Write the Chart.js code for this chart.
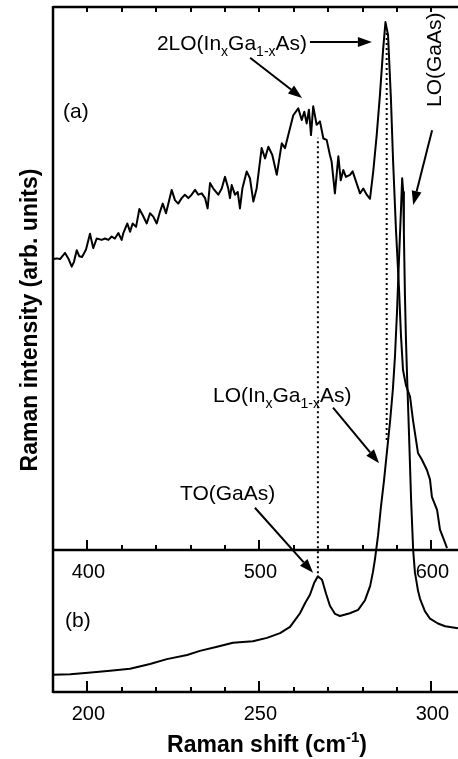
<!DOCTYPE html>
<html>
<head>
<meta charset="utf-8">
<script src="https://cdn.jsdelivr.net/npm/chart.js@4/dist/chart.umd.min.js"></script>
<style>
  body { margin: 0; background: #fff; overflow: hidden; }
</style>
</head>
<body>
<canvas id="raman" width="458" height="759"></canvas>
<script>
// Spektrum (a) - obere Achse (cm^-1)
const shiftA = [380.2, 382.2, 384.1, 387.0, 388.9, 390.9, 392.2, 393.8, 395.3, 396.9,
  399.2, 401.5, 403.4, 405.4, 408.3, 410.2, 412.2, 414.1, 416.0, 418.0,
  419.9, 420.9, 423.2, 424.8, 426.3, 428.3, 430.2, 432.2, 434.5, 436.4,
  438.3, 440.3, 442.2, 443.8, 445.7, 449.0, 450.9, 452.8, 454.8, 456.7,
  458.7, 460.6, 462.6, 464.5, 466.5, 468.4, 469.9, 471.3, 473.2, 476.1,
  478.1, 480.0, 481.9, 482.9, 483.9, 485.8, 487.4, 488.7, 490.1, 492.6,
  494.5, 496.5, 498.4, 501.3, 503.3, 505.2, 507.5, 510.1, 513.0, 514.9,
  516.8, 519.7, 522.6, 524.6, 526.1, 527.5, 528.8, 530.0, 531.3, 533.3,
  535.2, 537.2, 539.1, 541.0, 542.0, 543.9, 545.9, 547.3, 548.8, 550.3,
  552.7, 554.2, 556.2, 558.5, 560.4, 562.4, 564.3, 566.2, 568.2, 570.1,
  571.9, 573.3, 574.8, 576.5, 577.7, 579.4, 581.2, 582.3, 583.5, 585.2,
  587.6, 589.3, 592.2, 594.5, 597.4, 599.2, 600.3, 603.3, 605.0, 607.3,
  609.1];
const intensityA = [63.2, 63.3, 63.2, 64.1, 63.3, 62.1, 62.8, 64.5, 63.6, 63.5,
  64.6, 66.9, 64.8, 66.2, 66.0, 66.2, 66.0, 66.5, 66.2, 67.0,
  66.0, 67.0, 68.4, 67.2, 68.4, 67.9, 70.5, 69.6, 68.4, 69.9,
  69.4, 68.4, 70.1, 71.3, 69.9, 73.3, 71.8, 71.3, 72.1, 72.6,
  72.1, 72.6, 73.3, 72.6, 72.8, 72.1, 70.6, 74.3, 73.5, 72.6,
  73.5, 75.2, 73.5, 72.1, 74.0, 72.6, 73.0, 70.6, 73.5, 76.0,
  75.0, 71.6, 73.5, 79.4, 77.9, 79.6, 78.4, 75.5, 80.1, 79.4,
  81.3, 84.2, 85.2, 83.5, 84.7, 83.0, 85.0, 81.3, 85.5, 82.8,
  83.3, 80.8, 80.6, 78.4, 77.4, 72.8, 78.2, 74.7, 76.2, 75.2,
  75.5, 76.0, 74.5, 72.8, 73.5, 72.6, 72.0, 76.0, 81.3, 87.2,
  93.7, 97.8, 95.9, 86.4, 77.7, 67.5, 58.7, 52.1, 47.0, 44.8,
  43.1, 39.7, 34.9, 33.9, 32.4, 31.0, 28.5, 26.6, 23.7, 22.2,
  21.0];

// Spektrum (b) - untere Achse (cm^-1)
const shiftB = [190.0, 195.0, 200.2, 206.6, 212.4, 218.2, 223.1, 229.0, 232.7, 237.7,
  242.3, 248.1, 252.2, 256.0, 258.9, 260.5, 261.8, 263.3, 264.7, 265.9,
  267.0, 268.2, 269.4, 270.5, 272.0, 273.4, 276.3, 278.7, 280.7, 282.2,
  283.0, 283.6, 284.5, 285.3, 286.2, 287.1, 288.0, 288.8, 289.4, 290.0,
  290.6, 291.2, 291.5, 291.8, 292.0, 292.3, 292.6, 292.9, 293.5, 294.1,
  294.7, 295.2, 296.1, 296.7, 298.1, 299.6, 301.9, 304.0, 307.7];
const intensityB = [2.5, 2.6, 2.8, 3.1, 3.4, 4.1, 4.8, 5.4, 6.0, 6.6,
  7.2, 7.4, 7.9, 8.6, 9.5, 10.6, 11.5, 13.0, 14.2, 15.9,
  16.9, 16.4, 14.3, 12.6, 11.4, 11.1, 11.5, 12.0, 13.4, 15.5,
  17.5, 19.4, 22.9, 26.9, 30.8, 35.2, 39.6, 44.2, 48.9, 55.5,
  63.5, 71.0, 75.0, 73.0, 67.0, 58.0, 51.5, 46.5, 37.5, 28.0,
  20.7, 17.5, 14.8, 13.6, 11.8, 10.7, 10.0, 9.6, 9.3];

// gepunktete Hilfslinien (TO(GaAs), LO(InGaAs)) auf der unteren Achse
const guideShift = [267.0, 287.0];
const guideLow = [16.6, 36.8];
const guideHigh = [80.9, 96.2];

// Achsenbeschriftungen
const topMajor = [400, 500, 600];
const topMinor = [420, 440, 460, 480, 520, 540, 560, 580];
const botMajor = [200, 250, 300];
const botMinor = [210, 220, 230, 240, 260, 270, 280, 290];
const panelSplit = 20.73; // Grenze zwischen (a) und (b)

const FONT = '"Liberation Sans", Arial, Helvetica, sans-serif';

function richText(ctx, parts, x, y, size, weight) {
  let cx = x;
  for (const p of parts) {
    const s = p.sub || p.sup ? Math.round(size * 0.66) : size;
    ctx.font = `${weight || ''} ${s}px ${FONT}`;
    const dy = p.sub ? size * 0.26 : (p.sup ? -size * 0.42 : 0);
    ctx.fillText(p.t, cx, y + dy);
    cx += ctx.measureText(p.t).width;
  }
  return cx - x;
}

function richWidth(ctx, parts, size, weight) {
  let w = 0;
  for (const p of parts) {
    const s = p.sub || p.sup ? Math.round(size * 0.66) : size;
    ctx.font = `${weight || ''} ${s}px ${FONT}`;
    w += ctx.measureText(p.t).width;
  }
  return w;
}

function arrow(ctx, x1, y1, x2, y2) {
  const ang = Math.atan2(y2 - y1, x2 - x1);
  const len = 14, half = 5;
  const bx = x2 - len * Math.cos(ang), by = y2 - len * Math.sin(ang);
  ctx.beginPath();
  ctx.moveTo(x1, y1);
  ctx.lineTo(bx, by);
  ctx.stroke();
  ctx.beginPath();
  ctx.moveTo(x2, y2);
  ctx.lineTo(bx + half * Math.sin(ang), by - half * Math.cos(ang));
  ctx.lineTo(bx - half * Math.sin(ang), by + half * Math.cos(ang));
  ctx.closePath();
  ctx.fill();
}

const decor = {
  id: 'decor',
  afterDraw(chart) {
    const { ctx, chartArea: a } = chart;
    const xa = chart.scales.xa, xb = chart.scales.xb, y = chart.scales.y;
    const midY = Math.round(y.getPixelForValue(panelSplit));
    const X = v => xb.getPixelForValue(v);
    const Y = v => y.getPixelForValue(v);

    ctx.save();
    ctx.strokeStyle = '#000';
    ctx.fillStyle = '#000';

    // Rahmen (rechts abgeschnitten)
    ctx.lineWidth = 2.5;
    ctx.beginPath();
    ctx.moveTo(a.left, a.top); ctx.lineTo(a.right, a.top);
    ctx.moveTo(a.left, a.top - 1); ctx.lineTo(a.left, a.bottom + 1);
    ctx.moveTo(a.left, midY); ctx.lineTo(a.right, midY);
    ctx.moveTo(a.left, a.bottom); ctx.lineTo(a.right, a.bottom);
    ctx.stroke();

    // Ticks
    ctx.lineWidth = 2;
    ctx.beginPath();
    const tick = (scale, v, y0, len) => {
      const px = Math.round(scale.getPixelForValue(v));
      ctx.moveTo(px, y0); ctx.lineTo(px, y0 + len);
    };
    topMajor.forEach(v => { tick(xa, v, midY, -10); tick(xa, v, a.top, 5); });
    topMinor.forEach(v => { tick(xa, v, midY, -5); tick(xa, v, a.top, 5); });
    botMajor.forEach(v => tick(xb, v, a.bottom, -11));
    botMinor.forEach(v => tick(xb, v, a.bottom, -5));
    ctx.stroke();

    // Tick-Beschriftung
    ctx.font = `20px ${FONT}`;
    ctx.textAlign = 'center';
    ctx.textBaseline = 'top';
    topMajor.forEach(v => ctx.fillText(String(v), xa.getPixelForValue(v) + 1, midY + 12));
    botMajor.forEach(v => ctx.fillText(String(v), xb.getPixelForValue(v) + 1, a.bottom + 12));

    // Achsentitel
    ctx.textAlign = 'left';
    ctx.textBaseline = 'alphabetic';
    const xt = [{ t: 'Raman shift (cm' }, { t: '-1', sup: true }, { t: ')' }];
    const w = richWidth(ctx, xt, 23, 'bold');
    richText(ctx, xt, a.left + 214 - w / 2, 752, 23, 'bold');

    ctx.save();
    ctx.translate(31, 320);
    ctx.rotate(-Math.PI / 2);
    ctx.font = `bold 23px ${FONT}`;
    ctx.textAlign = 'center';
    ctx.textBaseline = 'middle';
    ctx.fillText('Raman intensity (arb. units)', 0, 0);
    ctx.restore();

    // Panel-Bezeichnungen und Peaks
    ctx.font = `21px ${FONT}`;
    ctx.fillText('(a)', X(192.9), Y(83.8));
    ctx.fillText('(b)', X(193.5), Y(9.5));
    ctx.fillText('TO(GaAs)', X(226.9), Y(28.0));
    richText(ctx, [{ t: '2LO(In' }, { t: 'x', sub: true }, { t: 'Ga' }, { t: '1-x', sub: true }, { t: 'As)' }],
      X(220.2), Y(93.7), 21);
    richText(ctx, [{ t: 'LO(In' }, { t: 'x', sub: true }, { t: 'Ga' }, { t: '1-x', sub: true }, { t: 'As)' }],
      X(236.5), Y(42.3), 21);

    ctx.save();
    ctx.translate(X(301.0), Y(92.3));
    ctx.rotate(-Math.PI / 2);
    ctx.font = `21px ${FONT}`;
    ctx.textAlign = 'center';
    ctx.textBaseline = 'middle';
    ctx.fillText('LO(GaAs)', 0, 0);
    ctx.restore();

    // Pfeile
    ctx.lineWidth = 2;
    arrow(ctx, X(264.7), Y(94.9), X(282.7), Y(94.9));
    arrow(ctx, X(247.3), Y(92.6), X(262.4), Y(86.7));
    arrow(ctx, X(300.2), Y(82.0), X(294.7), Y(71.1));
    arrow(ctx, X(271.4), Y(41.5), X(284.8), Y(33.4));
    arrow(ctx, X(248.7), Y(26.9), X(265.6), Y(17.4));

    ctx.restore();
  }
};

const lineStyle = {
  borderColor: '#000',
  borderWidth: 2,
  pointRadius: 0,
  tension: 0,
  borderJoinStyle: 'round',
  fill: false
};

const datasets = [
  { ...lineStyle, label: '(a)', xAxisID: 'xa', yAxisID: 'y',
    data: shiftA.map((x, i) => ({ x, y: intensityA[i] })) },
  { ...lineStyle, label: '(b)', xAxisID: 'xb', yAxisID: 'y',
    data: shiftB.map((x, i) => ({ x, y: intensityB[i] })) }
];
guideShift.forEach((s, i) => {
  datasets.push({ ...lineStyle, borderWidth: 2, borderDash: [2, 3], xAxisID: 'xb', yAxisID: 'y',
    data: [{ x: s, y: guideLow[i] }, { x: s, y: guideHigh[i] }] });
});

new Chart(document.getElementById('raman').getContext('2d'), {
  type: 'line',
  data: { datasets },
  options: {
    responsive: false,
    animation: false,
    events: [],
    layout: { padding: { left: 53, top: 7, right: 0, bottom: 67 } },
    plugins: { legend: { display: false }, tooltip: { enabled: false } },
    scales: {
      xa: { type: 'linear', position: 'top', display: false, min: 380, max: 615.47 },
      xb: { type: 'linear', position: 'bottom', display: false, min: 190, max: 307.73 },
      y: { type: 'linear', display: false, min: 0, max: 100 }
    }
  },
  plugins: [decor]
});
</script>
</body>
</html>
